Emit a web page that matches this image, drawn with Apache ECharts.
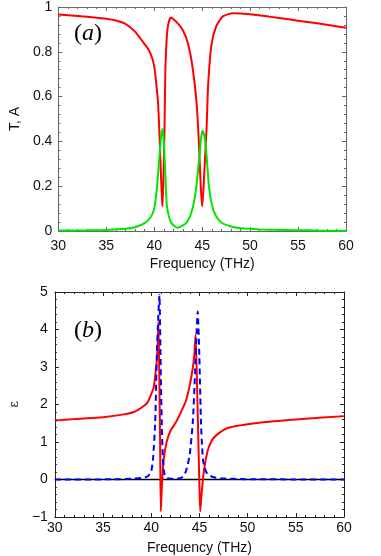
<!DOCTYPE html>
<html>
<head>
<meta charset="utf-8">
<title>T, A and epsilon vs frequency</title>
<script src="https://cdn.jsdelivr.net/npm/echarts@6/dist/echarts.min.js"></script>
<style>
  html, body { margin: 0; padding: 0; background: #fff; }
  #chart { width: 381px; height: 556px; }
</style>
</head>
<body>
<div id="chart"></div>
<script>
// 上图 (a)：透射 T（红）和吸收 A（绿）
const tFreq = [30, 32, 34, 35, 36, 37, 38, 38.8, 39.4, 39.8, 40.05, 40.25, 40.4, 40.55, 40.7, 40.8, 40.86, 40.95, 41.06, 41.16, 41.3, 41.45, 41.72, 42.0, 42.5, 43.0, 43.5, 44.0, 44.4, 44.65, 44.85, 45.0, 45.15, 45.3, 45.45, 45.62, 45.96, 46.47, 47.15, 48.2, 50, 52, 54, 56, 58, 60]
const tValue = [0.966, 0.96, 0.952, 0.948, 0.94, 0.925, 0.89, 0.845, 0.81, 0.77, 0.72, 0.64, 0.57, 0.43, 0.25, 0.15, 0.11, 0.22, 0.43, 0.72, 0.86, 0.92, 0.953, 0.945, 0.925, 0.895, 0.84, 0.73, 0.58, 0.4, 0.2, 0.11, 0.2, 0.33, 0.45, 0.65, 0.83, 0.915, 0.958, 0.972, 0.968, 0.957, 0.945, 0.933, 0.921, 0.907]
const aFreq = [30, 33, 35, 37, 38, 39, 39.6, 40.0, 40.3, 40.55, 40.75, 40.88, 41.0, 41.13, 41.3, 41.5, 41.8, 42.4, 43.0, 43.5, 44.0, 44.4, 44.7, 44.9, 45.05, 45.25, 45.45, 45.7, 46.0, 46.4, 47.0, 48.0, 49.0, 51, 54, 57, 60]
const aValue = [0.002, 0.003, 0.005, 0.01, 0.017, 0.035, 0.06, 0.1, 0.2, 0.34, 0.43, 0.455, 0.4, 0.28, 0.12, 0.07, 0.035, 0.015, 0.025, 0.045, 0.1, 0.2, 0.33, 0.42, 0.448, 0.42, 0.34, 0.2, 0.12, 0.07, 0.038, 0.02, 0.012, 0.007, 0.004, 0.002, 0.001]

// 下图 (b)：介电常数实部（红）和虚部（蓝虚线）
const reFreq = [30, 32, 35, 37, 38.2, 39, 39.6, 40.0, 40.25, 40.45, 40.58, 40.68, 40.75, 40.85, 40.92, 40.99, 41.1, 41.3, 41.6, 42.0, 42.5, 43.0, 43.6, 44.1, 44.45, 44.6, 44.8, 45.0, 45.08, 45.25, 45.5, 45.84, 46.2, 46.7, 48, 51.4, 55, 60]
const reValue = [1.57, 1.61, 1.66, 1.73, 1.8, 1.92, 2.05, 2.28, 2.45, 2.85, 3.2, 3.7, 4.21, 2.5, 1.0, -0.85, -0.2, 0.55, 1.0, 1.3, 1.5, 1.75, 2.1, 2.65, 3.25, 3.86, 2.0, -0.2, -0.85, -0.3, 0.3, 0.75, 1.0, 1.17, 1.38, 1.52, 1.6, 1.69]
const imFreq = [30, 36, 38, 39, 39.6, 40.0, 40.2, 40.41, 40.58, 40.72, 40.85, 40.95, 41.02, 41.1, 41.19, 41.3, 41.45, 41.8, 42.3, 42.9, 43.3, 43.6, 43.98, 44.31, 44.55, 44.7, 44.82, 44.99, 45.16, 45.28, 45.4, 45.7, 46.0, 46.5, 47.4, 49, 52, 56, 60]
const imValue = [0.0, 0.005, 0.02, 0.04, 0.08, 0.22, 0.6, 1.53, 3.29, 4.3, 4.92, 3.5, 2.41, 1.4, 0.64, 0.25, 0.08, 0.03, 0.02, 0.03, 0.08, 0.22, 0.64, 1.53, 2.85, 3.9, 4.48, 3.29, 1.53, 0.85, 0.47, 0.2, 0.11, 0.06, 0.03, 0.012, 0.005, 0.002, 0.001]
const zeroFreq = [30, 60]
const zeroValue = [0, 0]

// 坐标轴刻度
const xTicks = { min: 30, max: 60, interval: 5 }
const yTicksA = { min: 0, max: 1, interval: 0.2 }
const yTicksB = { min: -1, max: 5, interval: 1 }

const pairs = (xs, ys) => xs.map((x, i) => [x, ys[i]])

const fontName = 'Liberation Sans'
const labelStyle = { fontFamily: fontName, fontSize: 14, color: '#111' }
const nameStyle = { fontFamily: fontName, fontSize: 14, color: '#111' }

// 生成一根坐标轴（MATLAB风格：刻度朝内，四边都有）
const makeAxis = (gridIndex, position, ticks, showLabel, lineColor, labelMargin, formatter) => {
  return {
    type: 'value',
    gridIndex: gridIndex,
    position: position,
    min: ticks.min,
    max: ticks.max,
    interval: ticks.interval,
    axisLine: { show: true, onZero: false, lineStyle: { color: lineColor, width: 1 } },
    axisTick: { show: true, inside: true, length: 4, lineStyle: { color: lineColor } },
    minorTick: { show: true, splitNumber: 5, length: 2, lineStyle: { color: lineColor } },
    splitLine: { show: false },
    axisLabel: Object.assign({ show: showLabel, margin: labelMargin, formatter: formatter }, labelStyle)
  }
}

const minusFmt = (v) => (v < 0 ? '\u2212' + Math.abs(v) : String(v))

const chart = echarts.init(document.getElementById('chart'), null, { renderer: 'canvas' })

const xA = makeAxis(0, 'bottom', xTicks, true, '#666', 8)
xA.name = 'Frequency (THz)'
xA.nameLocation = 'middle'
xA.nameGap = 26
xA.nameTextStyle = nameStyle
const xB = makeAxis(1, 'bottom', xTicks, true, '#222', 4)
xB.name = 'Frequency (THz)'
xB.nameLocation = 'middle'
xB.nameGap = 24
xB.nameTextStyle = nameStyle

const yA = makeAxis(0, 'left', yTicksA, true, '#666', 6)
yA.name = 'T, A'
yA.nameLocation = 'middle'
yA.nameGap = 35
yA.nameTextStyle = nameStyle
const yB = makeAxis(1, 'left', yTicksB, true, '#222', 7, minusFmt)
yB.name = 'ε'
yB.nameLocation = 'middle'
yB.nameGap = 31
yB.nameTextStyle = { fontFamily: 'DejaVu Serif', fontSize: 13, color: '#111' }

// 面板标记：括号正体，字母斜体
const panelTag = (letter, top) => ({
  type: 'text',
  left: 74,
  top: top,
  style: {
    text: '{p|(}{l|' + letter + '}{p|)}',
    rich: {
      p: { fontFamily: 'Liberation Serif', fontSize: 24, fill: '#000' },
      l: { fontFamily: 'Liberation Serif', fontStyle: 'italic', fontSize: 24, fill: '#000' }
    }
  }
})

const option = {
  animation: false,
  backgroundColor: '#fff',
  grid: [
    { left: 51, width: 295, top: 4, height: 227 },
    { left: 49, width: 295, top: 292, height: 227 }
  ],
  xAxis: [
    xA,
    makeAxis(0, 'top', xTicks, false, '#666', 0),
    xB,
    makeAxis(1, 'top', xTicks, false, '#222', 0)
  ],
  yAxis: [
    yA,
    makeAxis(0, 'right', yTicksA, false, '#666', 0),
    yB,
    makeAxis(1, 'right', yTicksB, false, '#222', 0)
  ],
  graphic: [panelTag('a', 22), panelTag('b', 319)],
  series: [
    {
      name: 'T',
      type: 'line',
      xAxisIndex: 0,
      yAxisIndex: 0,
      data: pairs(tFreq, tValue),
      symbol: 'none',
      smooth: 0.2,
      lineStyle: { color: '#ff0000', width: 2 }
    },
    {
      name: 'A',
      type: 'line',
      xAxisIndex: 0,
      yAxisIndex: 0,
      data: pairs(aFreq, aValue),
      symbol: 'none',
      smooth: 0.2,
      lineStyle: { color: '#00e600', width: 2 }
    },
    {
      name: 'zero',
      type: 'line',
      xAxisIndex: 2,
      yAxisIndex: 2,
      data: pairs(zeroFreq, zeroValue),
      symbol: 'none',
      lineStyle: { color: '#000', width: 1.5 }
    },
    {
      name: 'Re',
      type: 'line',
      xAxisIndex: 2,
      yAxisIndex: 2,
      data: pairs(reFreq, reValue),
      symbol: 'none',
      smooth: 0.2,
      lineStyle: { color: '#ff0000', width: 2 }
    },
    {
      name: 'Im',
      type: 'line',
      xAxisIndex: 2,
      yAxisIndex: 2,
      data: pairs(imFreq, imValue),
      symbol: 'none',
      smooth: 0.2,
      lineStyle: { color: '#0000ff', width: 2, type: [6, 4] }
    }
  ]
}

chart.setOption(option)
</script>
</body>
</html>
